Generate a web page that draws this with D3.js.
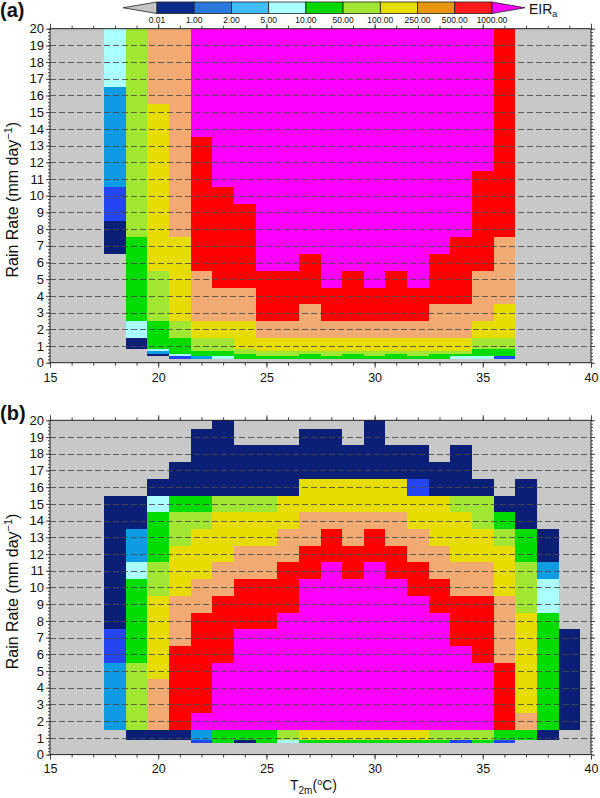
<!DOCTYPE html>
<html><head><meta charset="utf-8">
<script src="https://cdn.jsdelivr.net/npm/d3@7"></script>
<style>
html,body{margin:0;padding:0;background:#fff;}
svg{display:block;font-family:"Liberation Sans",Arial,Helvetica,sans-serif;}
</style></head>
<body>
<svg id="chart" width="600" height="798"></svg>
<script>
// ---------- DATA ----------
// EIR class boundaries (colour bar labels)
const levelLabels = ["0.01","1.00","2.00","5.00","10.00","50.00","100.00","250.00","500.00","1000.00"];
// Rain-rate bin edges (mm/day): fine bins near zero, then 1 mm/day bins centred on integers
const rainEdges = [0, 0.25, 0.4, 0.55, 0.7, 0.85, 1.5, 2.5, 3.5, 4.5, 5.5, 6.5, 7.5, 8.5, 9.5, 10.5,
                   11.5, 12.5, 13.5, 14.5, 15.5, 16.5, 17.5, 18.5, 19.5, 20];
// Temperature columns (deg C, bin centres)
const tempsA = [18,19,20,21,22,23,24,25,26,27,28,29,30,31,32,33,34,35,36];
const tempsB = [18,19,20,21,22,23,24,25,26,27,28,29,30,31,32,33,34,35,36,37,38,39];
// EIR class per cell, bottom -> top (one char per rain bin; 0 = below 0.01, 1..9, A = >1000)
const classesA = [
  "00000 000000 11 22 333333 4444",
  "00000 1 4 55555 66666 66666 666",
  "00134 55 666 77777 77777 88888",
  "02455 5 6 77777 88888 88888 888",
  "03556 6 7 888 99999999 AAAAAAA",
  "04556 6 7 88 999999 AAAAA AAAAA",
  "05566 7 7 88 99999 AAAAA AAAAA A",
  "05667 7 8 999 AAAAA AAAAA AAAAA",
  "05667 7 8 999 AAAAA AAAAA AAAAA",
  "05567 7 88 999 AAAAA AAAAA AAAA",
  "05667 7 8 99 AAAAA AAAAA AAAAA A",
  "05567 7 8 999 AAAAA AAAAA AAAAA",
  "05667 7 8 99 AAAAA AAAAA AAAAA A",
  "05567 7 8 999 AAAAA AAAAA AAAAA",
  "05667 7 8 99 AAAAA AAAAA AAAAA A",
  "05567 7 88 999 AAAAA AAAAA AAAA",
  "04567 7 88 9999 AAAAA AAAAA AAA",
  "04555 6 7 888 999999 AAAAA AAAA",
  "02555 6 77 8888 99999 99999 999"
];
const classesB = [
  "00000 0 3333 22 11111111 00000",
  "00000 1 6666 55555 4 33 11 00000",
  "00000 1 888 77777 66 555 4 1 0000",
  "00000 1 99999 888 777 66 5 11 000",
  "00002 3 A 999999 88 777 6 5 1111 0",
  "00005 5 AAAA 9999 88 777 6 11111",
  "00001 5 AAAAAA 999 88 77 6 111 00",
  "00005 5 AAAAAA 999 88 77 6 111 00",
  "00004 6 AAAAAAA 999 88 77 111 00",
  "00005 7 AAAAAAAAA 99 88 77 111 0",
  "00005 7 AAAAAAAAAA 99 8 77 111 0",
  "00005 7 AAAAAAAAA 99 88 77 11 00",
  "00005 7 AAAAAAAAAA 99 8 77 1111",
  "00005 7 AAAAAAAAA 99 88 77 11 00",
  "00005 7 AAAAAAAA 99 88 77 2 11 00",
  "00005 6 AAAAAAA 99 88 777 11 000",
  "00002 6 AAAAA 999 88 777 6 111 00",
  "00005 6 AAAA 9999 88 77 66 1 0000",
  "00002 5 9999 8888 777 6 5 1 00000",
  "00000 5 8 777777 666 55 111 0000",
  "00000 1 5555555 44 3 11 0000000",
  "00000 0 111111 00000 00000 000"
];
const xTicks = [15,20,25,30,35,40];
const yTicks = [0,1,2,3,4,5,6,7,8,9,10,11,12,13,14,15,16,17,18,19,20];

// ---------- STYLE ----------
const cellColors = ["none","#0b1f76","#2446f2","#0d9ce3","#aaffff","#00dc00","#a0e632","#e6dc00","#f0aa72","#ff0000","#ff00ff"];
const barColors  = ["#c4c4c4","#0a2a8c","#2a78dc","#40bcf8","#aaffff","#00d800","#a0e632","#e6dc00","#e6960f","#ff1a1a","#ff00ff"];
const bgGray = "#c8c8c8";

const svg = d3.select("#chart");
const x = d3.scaleLinear().domain([15,40]).range([50,591]);
const color = d3.scaleOrdinal().domain(d3.range(11)).range(cellColors);

function parse(s){
  const c = s.replace(/\s+/g,"");
  if (c.length !== rainEdges.length-1) throw new Error("bad column length " + c.length + " : " + s);
  return c.split("").map(ch => parseInt(ch,16));
}

function panel(temps, classes, y, label, labelY){
  const g = svg.append("g");
  g.append("rect").attr("x",x(15)).attr("y",y(20)).attr("width",x(40)-x(15)).attr("height",y(0)-y(20)).attr("fill",bgGray);
  const cells = [];
  temps.forEach((t,i)=>{
    parse(classes[i]).forEach((k,j)=>{
      if (k>0) cells.push({t, k, r0: rainEdges[j], r1: rainEdges[j+1]});
    });
  });
  g.append("g").attr("shape-rendering","crispEdges").selectAll("rect").data(cells).join("rect")
    .attr("x", d=>x(d.t-0.5)).attr("width", d=>x(d.t+0.5)-x(d.t-0.5))
    .attr("y", d=>y(d.r1)).attr("height", d=>y(d.r0)-y(d.r1))
    .attr("fill", d=>color(d.k));
  // dashed grid lines
  g.append("g").selectAll("line").data(yTicks.filter(v=>v>0 && v<20)).join("line")
    .attr("x1",x(15)).attr("x2",x(40)).attr("y1",d=>Math.round(y(d))+0.5).attr("y2",d=>Math.round(y(d))+0.5)
    .attr("stroke","#4a4a4a").attr("stroke-width",1).attr("stroke-dasharray","6,3").attr("opacity",0.85);

  const minorX = d3.range(15,40.01,1);
  const minorY = d3.range(0,20.01,0.2);
  const tickStyle = sel => { sel.select(".domain").remove(); sel.selectAll("line").attr("stroke","#444"); };
  // bottom
  g.append("g").attr("transform",`translate(0,${y(0)})`)
    .call(d3.axisBottom(x).tickValues(minorX).tickSize(3).tickFormat("")).call(tickStyle);
  g.append("g").attr("transform",`translate(0,${y(0)})`)
    .call(d3.axisBottom(x).tickValues(xTicks).tickSize(5).tickPadding(5).tickFormat(d3.format("d")))
    .call(tickStyle).call(s=>s.selectAll("text").attr("font-size",12.5).attr("fill","#111").attr("font-family","Liberation Sans, Arial, sans-serif"));
  // top
  g.append("g").attr("transform",`translate(0,${y(20)})`)
    .call(d3.axisTop(x).tickValues(minorX).tickSize(3).tickFormat("")).call(tickStyle);
  g.append("g").attr("transform",`translate(0,${y(20)})`)
    .call(d3.axisTop(x).tickValues(xTicks).tickSize(5).tickFormat("")).call(tickStyle);
  // left
  g.append("g").attr("transform",`translate(${x(15)},0)`)
    .call(d3.axisLeft(y).tickValues(minorY).tickSize(2).tickFormat("")).call(tickStyle);
  g.append("g").attr("transform",`translate(${x(15)},0)`)
    .call(d3.axisLeft(y).tickValues(yTicks).tickSize(4).tickPadding(2).tickFormat(d3.format("d")))
    .call(tickStyle).call(s=>s.selectAll("text").attr("font-size",13).attr("fill","#111").attr("font-family","Liberation Sans, Arial, sans-serif"));
  // right
  g.append("g").attr("transform",`translate(${x(40)},0)`)
    .call(d3.axisRight(y).tickValues(minorY).tickSize(2).tickFormat("")).call(tickStyle);
  g.append("g").attr("transform",`translate(${x(40)},0)`)
    .call(d3.axisRight(y).tickValues(yTicks).tickSize(4).tickFormat("")).call(tickStyle);
  // frame
  g.append("rect").attr("x",x(15)).attr("y",y(20)).attr("width",x(40)-x(15)).attr("height",y(0)-y(20))
    .attr("fill","none").attr("stroke","#222").attr("stroke-width",1);
  // y title
  const cy = (y(0)+y(20))/2 + 4;
  const tt = g.append("text").attr("transform",`translate(18,${cy}) rotate(-90)`)
    .attr("text-anchor","middle").attr("font-size",16).attr("fill","#111");
  tt.append("tspan").text("Rain Rate (mm day");
  tt.append("tspan").attr("dy",-6).attr("font-size",11).text("\u22121");
  tt.append("tspan").attr("dy",6).text(")");
  // panel label
  svg.append("text").attr("x",0).attr("y",labelY).attr("font-size",20).attr("font-weight","bold").attr("fill","#111").text(label);
}

const yA = d3.scaleLinear().domain([0,20]).range([362.7,28.7]);
const yB = d3.scaleLinear().domain([0,20]).range([754.6,420.3]);
panel(tempsA, classesA, yA, "(a)", 17);
panel(tempsB, classesB, yB, "(b)", 420);

// x title
const xt = svg.append("text").attr("x",290).attr("y",790).attr("font-size",14).attr("fill","#111");
xt.append("tspan").text("T");
xt.append("tspan").attr("dy",4).attr("font-size",10).text("2m");
xt.append("tspan").attr("dy",-4).text("(");
xt.append("tspan").attr("dy",-5).attr("font-size",9).text("o");
xt.append("tspan").attr("dy",5).text("C)");

// ---------- COLOUR BAR ----------
const cb = svg.append("g");
const cbx = d3.scaleLinear().domain([0,9]).range([157,492]);
const cbTop = 2, cbBot = 13.5, cbMid = 7.75;
cb.append("path").attr("d",`M${cbx(0)},${cbTop} L${cbx(0)},${cbBot} L123,${cbMid} Z`)
  .attr("fill",barColors[0]).attr("stroke","#222").attr("stroke-width",0.8);
cb.selectAll("rect").data(d3.range(1,10)).join("rect")
  .attr("x",d=>cbx(d-1)).attr("y",cbTop).attr("width",d=>cbx(d)-cbx(d-1)).attr("height",cbBot-cbTop)
  .attr("fill",d=>barColors[d]).attr("stroke","#222").attr("stroke-width",0.8);
cb.append("path").attr("d",`M${cbx(9)},${cbTop} L${cbx(9)},${cbBot} L525,${cbMid} Z`)
  .attr("fill",barColors[10]).attr("stroke","#222").attr("stroke-width",0.8);
cb.selectAll("text.lab").data(levelLabels).join("text").attr("class","lab")
  .attr("x",(d,i)=>cbx(i)).attr("y",23).attr("text-anchor","middle").attr("font-size",8.5).attr("fill","#111").text(d=>d);
const eir = cb.append("text").attr("x",529).attr("y",13.5).attr("font-size",14).attr("fill","#111");
eir.append("tspan").text("EIR");
eir.append("tspan").attr("dy",3).attr("font-size",9).text("a");
</script>
</body></html>
